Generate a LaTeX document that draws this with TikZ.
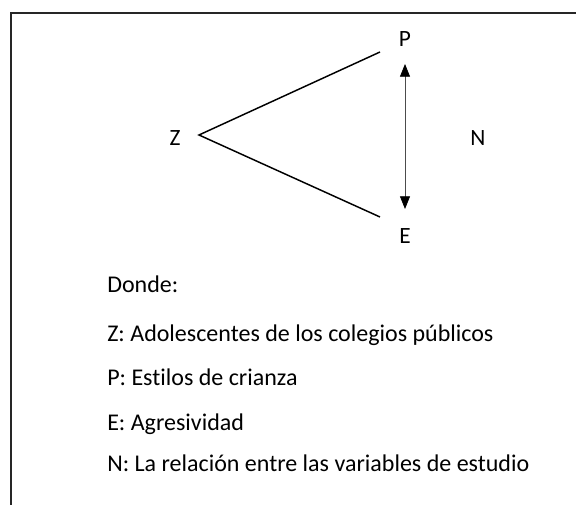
\documentclass[tikz,border=0pt]{standalone}
\usepackage{fontspec}
\setmainfont[Ligatures=NoCommon]{Carlito}
\usetikzlibrary{arrows.meta}
\begin{document}
\begin{tikzpicture}[x=0.75pt,y=-0.75pt,
  lbl/.style={inner sep=0pt,font=\fontsize{17.5}{21}\selectfont},
  txt/.style={inner sep=0pt,anchor=base west,font=\fontsize{18}{21}\selectfont},
  frame/.style={line width=1.5pt,draw=black!85},
  leg/.style={line width=1.1pt},
  rel/.style={line width=0.6pt,draw=black!70,{Triangle[length=9.5pt,width=7.5pt,fill=black,color=black]}-{Triangle[length=9.5pt,width=7.5pt,fill=black,color=black]}}]
\useasboundingbox (0,0) rectangle (576,505);
\draw[frame] (576,13) -- (11,13) -- (11,505);
\node[lbl] (Z) at (175,138) {Z};
\node[lbl] (P) at (405,39) {P};
\node[lbl] (E) at (405,236) {E};
\node[lbl] (N) at (478,138) {N};
\coordinate (apex) at (199,135);
\coordinate (pend) at (380,52);
\coordinate (eend) at (380,217);
\coordinate (atop) at (405,64);
\coordinate (abot) at (405,209);
\draw[leg] (pend) -- (apex) -- (eend);
\draw[rel] (atop) -- (abot);
\node[txt] (t0) at (107,293) {Donde:};
\node[txt] (t1) at (107,342) {Z: Adolescentes de los colegios públicos};
\node[txt] (t2) at (107,386) {P: Estilos de crianza};
\node[txt] (t3) at (107,431) {E: Agresividad};
\node[txt] (t4) at (107,472) {N: La relación entre las variables de estudio};
\end{tikzpicture}
\end{document}
